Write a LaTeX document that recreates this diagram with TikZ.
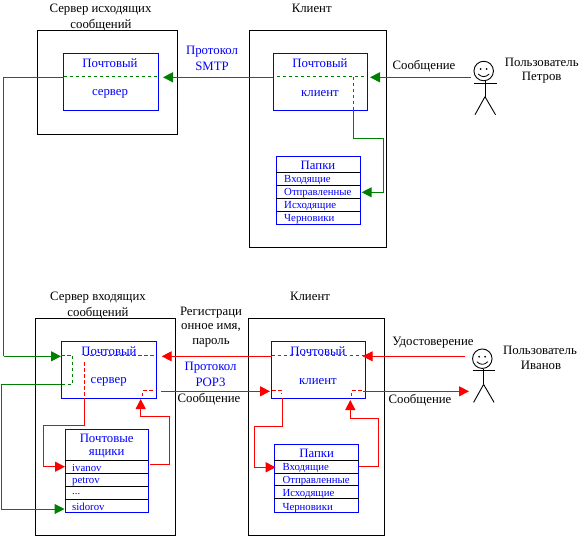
\documentclass[tikz,border=0pt]{standalone}
\usepackage{fontspec}
\setmainfont{Liberation Serif}
\usetikzlibrary{arrows.meta}
\definecolor{mailgreen}{RGB}{0,128,0}
\definecolor{mailred}{RGB}{255,0,0}
\definecolor{mailblue}{RGB}{0,0,255}
\begin{document}
\begin{tikzpicture}[x=1pt, y=-1pt, >={Triangle[length=10pt,width=10pt]},
    frame/.style={draw=black, line width=1pt, inner sep=0pt, outer sep=0pt},
    mailbox/.style={draw=mailblue, line width=1pt, inner sep=0pt, outer sep=0pt},
    lbl/.style={font=\fontsize{12.8}{14}\selectfont, inner sep=0pt, text=black, yshift=-0.8pt},
    blbl/.style={font=\fontsize{12.8}{14}\selectfont, inner sep=0pt, text=mailblue, yshift=-0.8pt},
    item/.style={font=\fontsize{10.8}{12}\selectfont, inner sep=0pt, text=mailblue, anchor=west, yshift=-0.8pt},
    grn/.style={draw=mailgreen, line width=1pt},
    rd/.style={draw=mailred, line width=1pt},
    dsh/.style={dash pattern=on 3.5pt off 2.5pt}]
    \useasboundingbox (0,0) rectangle (584,536);

    % Cadres
    \node[frame, minimum width=139.5pt, minimum height=104pt] (srvOut) at (107.25,82.5) {};
    \node[frame, minimum width=136.5pt, minimum height=217pt] (cliTop) at (317.75,139) {};
    \node[frame, minimum width=139.5pt, minimum height=217pt] (srvIn) at (105.5,426.8) {};
    \node[frame, minimum width=136.5pt, minimum height=217pt] (cliBot) at (316.5,426.8) {};

    % Programmes
    \node[mailbox, minimum width=94.5pt, minimum height=57pt] (mailOut) at (110.75,81.5) {};
    \node[mailbox, minimum width=94pt, minimum height=57pt] (mailCliTop) at (320,81.5) {};
    \node[mailbox, minimum width=95pt, minimum height=57pt] (mailIn) at (108.8,369.8) {};
    \node[mailbox, minimum width=94pt, minimum height=57pt] (mailCliBot) at (318.7,369.8) {};

    % Dossiers
    \node[mailbox, minimum width=84pt, minimum height=68pt] (dirTop) at (318,190.5) {};
    \node[mailbox, minimum width=83pt, minimum height=82.6pt] (boxes) at (106.8,471) {};
    \node[mailbox, minimum width=84.4pt, minimum height=68pt] (dirBot) at (316.5,478.3) {};
    \foreach \y in {172.5,185.5,198.5,211.5}
        \draw[black, line width=0.8pt] (dirTop.west |- 0,\y) -- (dirTop.east |- 0,\y);
    \foreach \y in {460.3,473.3,486.3,499.3}
        \draw[black, line width=0.8pt] (boxes.west |- 0,\y) -- (boxes.east |- 0,\y);
    \foreach \y in {460.3,473.3,485.8,498.3}
        \draw[black, line width=0.8pt] (dirBot.west |- 0,\y) -- (dirBot.east |- 0,\y);

    % Textes noirs
    \node[lbl] (tSrvOut1) at (100.5,9) {Сервер исходящих};
    \node[lbl] (tSrvOut2) at (101,24) {сообщений};
    \node[lbl] (tCliTop) at (311.7,8) {Клиент};
    \node[lbl] (tMsgTop) at (424,65.7) {Сообщение};
    \node[lbl] (tUser1) at (541.7,62) {Пользователь};
    \node[lbl] (tUser2) at (541.7,77) {Петров};
    \node[lbl] (tSrvIn1) at (98,297) {Сервер входящих};
    \node[lbl] (tSrvIn2) at (98,312) {сообщений};
    \node[lbl] (tCliBot) at (310,296) {Клиент};
    \node[lbl] (tReg1) at (211,312) {Регистраци};
    \node[lbl] (tReg2) at (211,327) {онное имя,};
    \node[lbl] (tReg3) at (211,342) {пароль};
    \node[lbl] (tMsgIn) at (209,398.7) {Сообщение};
    \node[lbl] (tCert) at (433,342) {Удостоверение};
    \node[lbl] (tMsgBot) at (420,399) {Сообщение};
    \node[lbl] (tUser3) at (540,350) {Пользователь};
    \node[lbl] (tUser4) at (541,365) {Иванов};

    % Textes bleus
    \node[blbl] (tSmtp1) at (212,51) {Протокол};
    \node[blbl] (tSmtp2) at (212,65.7) {SMTP};
    \node[blbl] (tPop1) at (210.5,367) {Протокол};
    \node[blbl] (tPop2) at (210.5,381.7) {POP3};
    \node[blbl] (tMailOut1) at (110,62) {Почтовый};
    \node[blbl] (tMailOut2) at (110,93) {сервер};
    \node[blbl] (tMailTop1) at (320,62) {Почтовый};
    \node[blbl] (tMailTop2) at (320,93) {клиент};
    \node[blbl] (tMailIn1) at (109,350) {Почтовый};
    \node[blbl] (tMailIn2) at (108.7,380.7) {сервер};
    \node[blbl] (tMailBot1) at (318,350) {Почтовый};
    \node[blbl] (tMailBot2) at (318,380.7) {клиент};
    \node[blbl] (tDirTop) at (318,165) {Папки};
    \node[blbl] (tDirBot) at (316.7,453) {Папки};
    \node[blbl] (tBoxes1) at (106.7,438) {Почтовые};
    \node[blbl] (tBoxes2) at (106.7,453) {ящики};

    % Lignes des dossiers
    \node[item] (inTop) at (284,179) {Входящие};
    \node[item] (sentTop) at (284,192) {Отправленные};
    \node[item] (outTop) at (284,205) {Исходящие};
    \node[item] (drTop) at (284,218) {Черновики};
    \node[item] (inBot) at (282.3,467.5) {Входящие};
    \node[item] (sentBot) at (282.3,480.5) {Отправленные};
    \node[item] (outBot) at (282.3,493.5) {Исходящие};
    \node[item] (drBot) at (282.3,507) {Черновики};
    \node[item] (ivanov) at (72,467.5) {ivanov};
    \node[item] (petrov) at (72,480.5) {petrov};
    \node[item] (dots) at (72,493) {...};
    \node[item] (sidorov) at (72,506) {sidorov};

    % Personnages
    \foreach \hx/\hy/\n in {483.7/71/userPetrov, 482.3/358.7/userIvanov} {
        \node[draw, circle, line width=0.9pt, minimum size=19.5pt, inner sep=0pt] (\n) at (\hx,\hy) {};
        \fill (\hx-3.2,\hy-2) circle (1pt) (\hx+2.8,\hy-2) circle (1pt);
        \draw[line width=0.8pt] (\hx-5.5,\hy+3) .. controls (\hx-2,\hy+6.5) and (\hx+2,\hy+6.5) .. (\hx+5.5,\hy+3);
        \draw[line width=0.9pt] (\n.south) ++(1.3,0) -- ++(0,15.5) coordinate (\n Hip);
        \draw[line width=0.9pt] (\hx-9.7,\hy+12) -- (\hx+13,\hy+12);
        \draw[line width=0.9pt] (\n Hip) -- ++(-10,18) (\n Hip) -- ++(10.5,18);
    }

    % Points d'appui verts
    \coordinate (A) at (471,77.3);
    \coordinate (B) at (370,77.3);
    \coordinate (C) at (273,77.3);
    \coordinate (D) at (163,77.3);
    \coordinate (E) at (63.5,77.3);
    \coordinate (F) at (3.5,77.3);
    \coordinate (G) at (3.5,356.3);
    \coordinate (H) at (61,356.3);
    \coordinate (I) at (61,384);
    \coordinate (J) at (1.7,384);
    \coordinate (K) at (1.7,509);
    \coordinate (L) at (64.5,509);

    % Message de Petrov
    \draw[grn, ->] (A) -- (B);
    \draw[grn, ->] (C) -- (D);
    \draw[grn] (E) -- (F) -- (G);
    \draw[grn, ->] (G) -- (H);
    \draw[grn, ->] (I) -- (J) -- (K) -- (L);
    \draw[grn, dsh] (276.7,76.5) -- (365,76.5);
    \draw[grn, dsh] (63.5,76.5) -- (158,76.5);
    \draw[grn, dsh] (61,355.3) -- (72.7,355.3) -- (72.7,384) -- (I);

    % Copie vers Отправленные
    \coordinate (M) at (353.3,76.5);
    \coordinate (N) at (353.3,110);
    \coordinate (O) at (353.3,138.3);
    \coordinate (P) at (383.3,138.3);
    \coordinate (Q) at (383.3,192.3);
    \coordinate (R) at (361.7,192.3);
    \draw[grn, dsh] (M) -- (N);
    \draw[grn, ->] (N) -- (O) -- (P) -- (Q) -- (R);

    % Удостоверение
    \coordinate (a1) at (465,356.3);
    \coordinate (a2) at (362.7,356.3);
    \coordinate (a3) at (271.7,356.3);
    \coordinate (a4) at (161.7,356.3);
    \draw[rd, ->] (a1) -- (a2);
    \draw[rd, ->] (a3) -- (a4);
    \draw[rd, dsh] (271.7,355.3) -- (365,355.3);
    \draw[rd, dsh] (84,355.3) -- (155,355.3);

    % Vers ivanov
    \coordinate (b1) at (84.7,398.3);
    \coordinate (b2) at (84.7,425);
    \coordinate (b3) at (43.7,425);
    \coordinate (b4) at (43.7,466.7);
    \coordinate (b5) at (65,466.7);
    \draw[rd, dsh] (84.7,362.3) -- (b1);
    \draw[rd, ->] (b1) -- (b2) -- (b3) -- (b4) -- (b5);

    % Depuis ivanov
    \coordinate (c1) at (150,464.3);
    \coordinate (c2) at (169.3,464.3);
    \coordinate (c3) at (169.3,416.3);
    \coordinate (c4) at (140.7,416.3);
    \coordinate (c5) at (140.7,399);
    \draw[rd, ->] (c1) -- (c2) -- (c3) -- (c4) -- (c5);
    \draw[rd, dsh] (142.7,396) -- (142.7,390.3) -- (155,390.3);

    % Сообщение
    \coordinate (d1) at (161.3,391.3);
    \coordinate (d2) at (270,391.3);
    \draw[rd, ->] (d1) -- (d2);
    \draw[rd, dsh] (272,390.3) -- (281.7,390.3);
    \draw[rd, dotted] (281.7,390.3) -- (281.7,396);

    % Vers Входящие
    \coordinate (e1) at (282.7,398.3);
    \coordinate (e2) at (282.7,426.3);
    \coordinate (e3) at (254.3,426.3);
    \coordinate (e4) at (254.3,467.3);
    \coordinate (e5) at (275.7,467.3);
    \draw[rd, ->] (e1) -- (e2) -- (e3) -- (e4) -- (e5);

    % Depuis Входящие
    \coordinate (f1) at (359.3,466.3);
    \coordinate (f2) at (378.3,466.3);
    \coordinate (f3) at (378.3,418.3);
    \coordinate (f4) at (350.3,418.3);
    \coordinate (f5) at (350.3,400);
    \draw[rd, ->] (f1) -- (f2) -- (f3) -- (f4) -- (f5);
    \draw[rd, dsh] (351.7,396) -- (351.7,390.3) -- (363.3,390.3);

    % Vers Иванов
    \coordinate (g1) at (363.3,391.3);
    \coordinate (g2) at (469,391.3);
    \draw[rd, ->] (g1) -- (g2);
\end{tikzpicture}
\end{document}
